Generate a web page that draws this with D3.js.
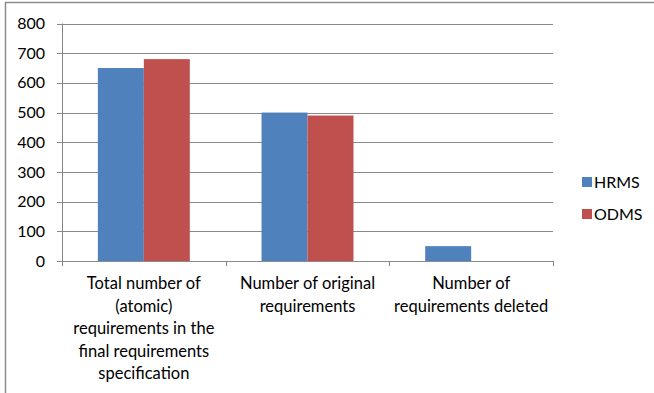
<!DOCTYPE html>
<html>
<head>
<meta charset="utf-8">
<script src="https://cdn.jsdelivr.net/npm/d3@7"></script>
<style>
  body { margin: 0; background: #fff; }
  svg { display: block; font-family: Lato, "Open Sans", sans-serif; }
</style>
</head>
<body>
<div id="chart"></div>
<script>
const categories = [
    ['Total number of', '(atomic)', 'requirements in the', 'final requirements', 'specification'],
    ['Number of original', 'requirements'],
    ['Number of', 'requirements deleted']
];
const seriesNames = ['HRMS', 'ODMS'];
const hrmsValues = [650, 500, 50];
const odmsValues = [680, 490, 0];
const yTicks = [0, 100, 200, 300, 400, 500, 600, 700, 800];
const colors = ['#4f81bd', '#c0504d'];

let width = 654,
    height = 393,
    plotLeft = 62,
    plotRight = 553,
    plotTop = 23.5,
    plotBottom = 261;

let svg = d3.select('#chart')
    .append('svg')
    .attr('width', width)
    .attr('height', height);

// outer frame (only top/left visible in the picture)
svg.append('rect')
    .attr('x', 5.5).attr('y', 2.5)
    .attr('width', width + 10).attr('height', height + 10)
    .attr('fill', 'none')
    .attr('stroke', '#8c8c8c')
    .attr('stroke-width', 1.5);

let xScale = d3.scaleBand()
    .domain(d3.range(categories.length))
    .range([plotLeft, plotRight])
    .paddingInner(0)
    .paddingOuter(0);

let xInner = d3.scaleBand()
    .domain(seriesNames)
    .range([0, xScale.bandwidth()])
    .paddingInner(0)
    .paddingOuter(0.78);

let yScale = d3.scaleLinear()
    .domain([0, 800])
    .range([plotBottom, plotTop]);

// gridlines
svg.append('g')
    .selectAll('line')
    .data(yTicks)
    .enter().append('line')
    .attr('x1', plotLeft - 5)
    .attr('x2', plotRight)
    .attr('y1', d => Math.round(yScale(d)) + 0.5)
    .attr('y2', d => Math.round(yScale(d)) + 0.5)
    .attr('stroke', '#8a8a8a')
    .attr('stroke-width', 1);

// y labels
svg.append('g')
    .selectAll('text')
    .data(yTicks)
    .enter().append('text')
    .attr('x', plotLeft - 17)
    .attr('y', d => yScale(d))
    .attr('dy', '0.35em')
    .attr('text-anchor', 'end')
    .attr('font-size', 16)
    .attr('fill', '#000')
    .text(d => d);

// y axis line
svg.append('line')
    .attr('x1', plotLeft + 0.5).attr('x2', plotLeft + 0.5)
    .attr('y1', plotTop).attr('y2', plotBottom)
    .attr('stroke', '#868686');

// category ticks
svg.append('g')
    .selectAll('line')
    .data(d3.range(categories.length + 1))
    .enter().append('line')
    .attr('x1', i => Math.round(plotLeft + i * xScale.bandwidth()) + 0.5)
    .attr('x2', i => Math.round(plotLeft + i * xScale.bandwidth()) + 0.5)
    .attr('y1', plotBottom)
    .attr('y2', plotBottom + 5)
    .attr('stroke', '#868686');

// bars
let series = [hrmsValues, odmsValues];
series.forEach(function(values, s) {
    svg.append('g')
        .selectAll('rect')
        .data(values)
        .enter().append('rect')
        .attr('x', (d, i) => xScale(i) + xInner(seriesNames[s]))
        .attr('y', d => yScale(d))
        .attr('width', xInner.bandwidth())
        .attr('height', d => plotBottom - yScale(d))
        .attr('fill', colors[s]);
});

// category labels
let catLabels = svg.append('g')
    .selectAll('text')
    .data(categories)
    .enter().append('text')
    .attr('x', (d, i) => xScale(i) + xScale.bandwidth() / 2)
    .attr('y', 289)
    .attr('text-anchor', 'middle')
    .attr('font-size', 16.5)
    .attr('fill', '#000');

catLabels.selectAll('tspan')
    .data(d => d)
    .enter().append('tspan')
    .attr('x', function() { return d3.select(this.parentNode).attr('x'); })
    .attr('dy', (d, i) => i === 0 ? 0 : 22.5)
    .text(d => d);

// legend
let legend = svg.append('g')
    .selectAll('g')
    .data(seriesNames)
    .enter().append('g')
    .attr('transform', (d, i) => 'translate(582,' + (177 + i * 32) + ')');

legend.append('rect')
    .attr('width', 10).attr('height', 10)
    .attr('fill', (d, i) => colors[i]);

legend.append('text')
    .attr('x', 12)
    .attr('y', 5)
    .attr('dy', '0.35em')
    .attr('font-size', 16)
    .text(d => d);
</script>
</body>
</html>
